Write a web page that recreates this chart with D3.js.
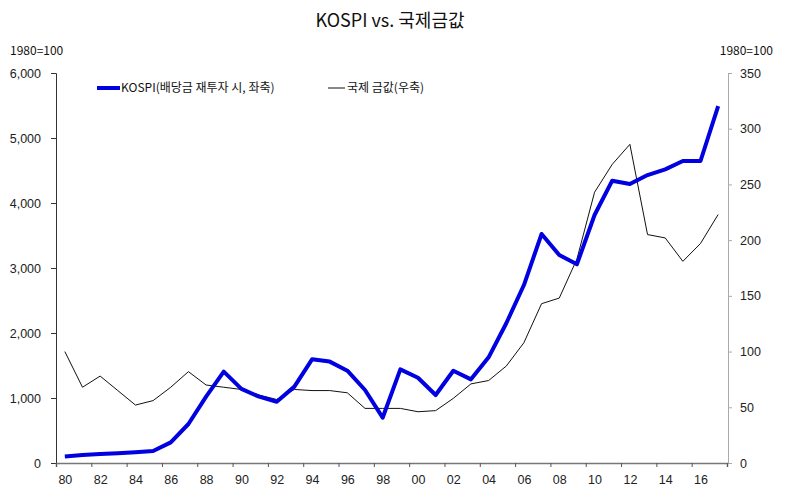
<!DOCTYPE html>
<html>
<head>
<meta charset="utf-8">
<script src="https://cdn.jsdelivr.net/npm/d3@7"></script>
<style>
  body { margin: 0; background: #fff; }
  svg { display: block; }
  .tick text { font-family: "Liberation Sans", Arial, sans-serif; font-size: 12.5px; fill: #222; }
  .kr { font-family: "Noto Sans CJK KR", sans-serif; fill: #111; }
</style>
</head>
<body>
<svg width="800" height="497"></svg>
<script>
// years on the x axis
var years = d3.range(1980, 2018);
// KOSPI, dividends reinvested (left axis, 1980=100)
var kospi = [100, 123, 138, 150, 165, 185, 318, 600, 1020, 1405,
             1140, 1020, 943, 1175, 1595, 1560, 1420, 1123, 697, 1440,
             1312, 1046, 1420, 1287, 1626, 2150, 2738, 3523, 3200, 3057,
             3815, 4343, 4292, 4430, 4518, 4646, 4646, 5490];
// international gold price (right axis, 1980=100)
var gold = [100, 68, 78, 65, 52, 56, 68, 82, 70, 68,
            66, 61, 57, 66, 65, 65, 63, 49, 49, 49,
            46, 47, 58, 71, 74, 87, 108, 143, 148, 183,
            243, 268, 286, 205, 202, 181, 197, 223];
var leftTicks = [0, 1000, 2000, 3000, 4000, 5000, 6000];
var rightTicks = [0, 50, 100, 150, 200, 250, 300, 350];
var xLabels = d3.range(1980, 2018, 2);

var svg = d3.select("svg");
var plotL = 56, plotR = 727, plotT = 73, plotB = 463;

var x = d3.scaleLinear().domain([1979.5, 2017.5]).range([plotL, plotR]);
var yL = d3.scaleLinear().domain([0, 6000]).range([plotB, plotT]);
var yR = d3.scaleLinear().domain([0, 350]).range([plotB, plotT]);

// title
svg.append("text").attr("class", "kr")
    .attr("x", 390).attr("y", 27)
    .attr("text-anchor", "middle")
    .style("font-size", "18px")
    .text("KOSPI vs. 국제금값");

svg.append("text").attr("class", "kr")
    .attr("x", 10).attr("y", 55)
    .style("font-size", "12px")
    .text("1980=100");
svg.append("text").attr("class", "kr")
    .attr("x", 773).attr("y", 55)
    .attr("text-anchor", "end")
    .style("font-size", "12px")
    .text("1980=100");

// left axis
var gL = svg.append("g")
    .attr("transform", "translate(" + plotL + ",0)")
    .call(d3.axisLeft(yL).tickValues(leftTicks).tickSize(5).tickPadding(10)
        .tickFormat(d3.format(",")));
gL.select(".domain").attr("stroke", "#333");
gL.selectAll(".tick line").attr("stroke", "#333");

// right axis
var gR = svg.append("g")
    .attr("transform", "translate(" + (plotR + 1) + ",0)")
    .call(d3.axisRight(yR).tickValues(rightTicks).tickSize(4).tickPadding(8));
gR.select(".domain").attr("stroke", "#aaa");
gR.selectAll(".tick line").attr("stroke", "#aaa");

// x axis: tick marks at category boundaries, labels at even years
var boundaries = d3.range(1979.5, 2018, 2);
var gX = svg.append("g")
    .attr("transform", "translate(0," + plotB + ")")
    .call(d3.axisBottom(x).tickValues(boundaries).tickSize(4).tickFormat(""));
gX.select(".domain").attr("stroke", "#777").attr("stroke-width", 1.5);
gX.selectAll(".tick line").attr("stroke", "#555");

var gXL = svg.append("g")
    .attr("transform", "translate(0," + plotB + ")")
    .call(d3.axisBottom(x).tickValues(xLabels).tickSize(0).tickPadding(12)
        .tickFormat(function(d) { return d3.format("02")(d % 100); }));
gXL.select(".domain").remove();

// lines
var lineL = d3.line().x(function(d, i) { return x(years[i]); }).y(function(d) { return yL(d); });
var lineR = d3.line().x(function(d, i) { return x(years[i]); }).y(function(d) { return yR(d); });

svg.append("path").datum(gold)
    .attr("d", lineR)
    .attr("fill", "none")
    .attr("stroke", "#111")
    .attr("stroke-width", 1);

svg.append("path").datum(kospi)
    .attr("d", lineL)
    .attr("fill", "none")
    .attr("stroke", "#0000e0")
    .attr("stroke-width", 4)
    .attr("stroke-linejoin", "round");

// legend
var lg = svg.append("g");
lg.append("line").attr("x1", 97).attr("x2", 120).attr("y1", 88).attr("y2", 88)
    .attr("stroke", "#0000e0").attr("stroke-width", 4);
lg.append("text").attr("class", "kr").attr("x", 121).attr("y", 92)
    .style("font-size", "12px").text("KOSPI(배당금 재투자 시, 좌축)");
lg.append("line").attr("x1", 328).attr("x2", 345).attr("y1", 88).attr("y2", 88)
    .attr("stroke", "#111").attr("stroke-width", 1);
lg.append("text").attr("class", "kr").attr("x", 347).attr("y", 92)
    .style("font-size", "12px").text("국제 금값(우축)");
</script>
</body>
</html>
